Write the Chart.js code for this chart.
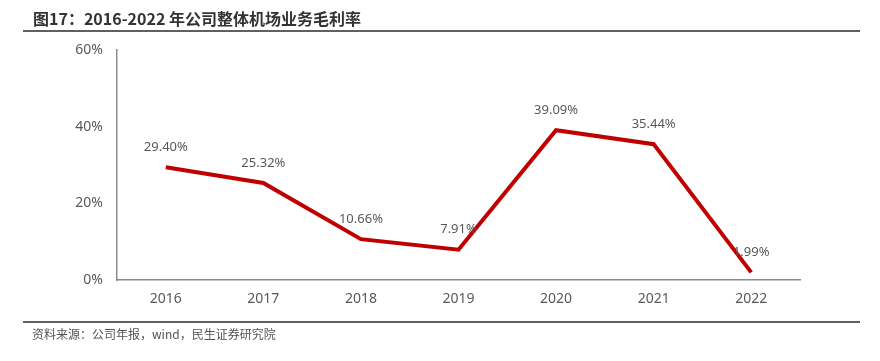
<!DOCTYPE html>
<html>
<head>
<meta charset="utf-8">
<script src="https://cdn.jsdelivr.net/npm/chart.js@4"></script>
<style>
  body { margin: 0; background: #fff; }
  #wrap { position: relative; width: 880px; height: 361px; overflow: hidden; }
  #title { position: absolute; left: 33px; top: 6px; font: bold 16px "Noto Sans CJK SC", sans-serif; color: #333; }
  #topline { position: absolute; left: 23px; top: 30px; width: 837px; height: 2px; background: #606060; }
  #botline { position: absolute; left: 23px; top: 321px; width: 837px; height: 2px; background: #606060; }
  #source { position: absolute; left: 32px; top: 325px; font: 12px "Noto Sans CJK SC", sans-serif; color: #555; }
  #myChart { position: absolute; left: 0; top: 0; }
</style>
</head>
<body>
<div id="wrap">
  <canvas id="myChart" width="880" height="361"></canvas>
  <div id="title">图17：2016-2022 年公司整体机场业务毛利率</div>
  <div id="topline"></div>
  <div id="botline"></div>
  <div id="source">资料来源：公司年报，wind，民生证券研究院</div>
</div>
<script>
const years = ['2016', '2017', '2018', '2019', '2020', '2021', '2022'];
const margin = [29.40, 25.32, 10.66, 7.91, 39.09, 35.44, 1.99]; // 毛利率 %
const yTicks = [0, 20, 40, 60];

// 数据标签
const valueLabels = {
    id: 'valueLabels',
    afterDatasetsDraw(chart) {
        const c = chart.ctx;
        const meta = chart.getDatasetMeta(0);
        c.save();
        c.font = '13px "Noto Sans", sans-serif';
        c.fillStyle = '#595959';
        c.textAlign = 'center';
        c.textBaseline = 'middle';
        meta.data.forEach((pt, i) => {
            c.fillText(margin[i].toFixed(2) + '%', pt.x, pt.y - 20);
        });
        c.restore();
    }
};

const ctx = document.getElementById('myChart').getContext('2d');
const myChart = new Chart(ctx, {
    type: 'line',
    data: {
        labels: years,
        datasets: [{
            data: margin,
            borderColor: '#C00000',
            borderWidth: 4,
            pointRadius: 0,
            tension: 0,
            fill: false
        }]
    },
    options: {
        responsive: false,
        animation: false,
        layout: { padding: { left: 0, right: 80, top: 50, bottom: 0 } },
        plugins: { legend: { display: false }, tooltip: { enabled: false } },
        scales: {
            x: {
                offset: true,
                grid: { display: false, drawTicks: false },
                border: { color: '#8c8c8c', width: 1.5 },
                ticks: { color: '#595959', font: { family: 'Noto Sans', size: 14 }, padding: 11 },
                afterFit(scale) { scale.height = 81; }
            },
            y: {
                min: 0,
                max: 60,
                afterBuildTicks(scale) { scale.ticks = yTicks.map(v => ({ value: v })); },
                grid: { display: false, drawTicks: false },
                border: { color: '#8c8c8c', width: 1.5 },
                ticks: {
                    color: '#595959',
                    font: { family: 'Noto Sans', size: 14 },
                    padding: 14,
                    callback: v => v + '%'
                },
                afterFit(scale) { scale.width = 117; }
            }
        }
    },
    plugins: [valueLabels]
});
</script>
</body>
</html>
